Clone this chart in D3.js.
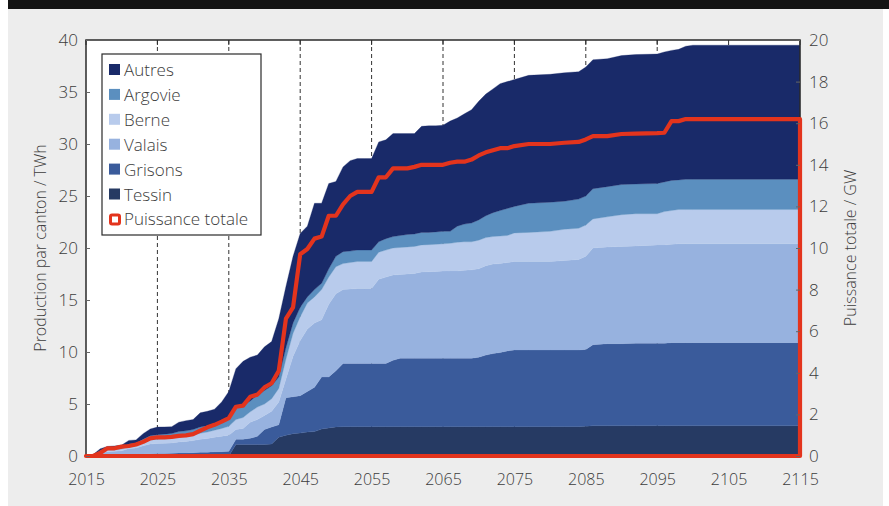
<!DOCTYPE html>
<html><head><meta charset="utf-8">
<script src="https://cdn.jsdelivr.net/npm/d3@7"></script>
<style>
body{margin:0;background:#fff}
svg{display:block}
text{font-family:"Open Sans","Noto Sans",sans-serif;font-weight:300;fill:#3c3c3c}
</style>
</head><body>
<svg id="c" width="889" height="506"></svg>
<script>
const years = [2015,2016,2017,2018,2019,2020,2021,2022,2023,2024,2025,2026,2027,2028,2029,2030,2031,2032,2033,2034,2035,2036,2037,2038,2039,2040,2041,2042,2043,2044,2045,2046,2047,2048,2049,2050,2051,2052,2053,2054,2055,2056,2057,2058,2059,2060,2061,2062,2063,2064,2065,2066,2067,2068,2069,2070,2071,2072,2073,2074,2075,2077,2080,2082,2084,2085,2086,2088,2090,2092,2095,2096,2097,2098,2099,2100,2115];

const tessin  = [0,0,0,0,0,0,0,0,0,0,0,0,0,0,0,0,0,0,0,0,0,1.1,1.1,1.1,1.1,1.1,1.15,1.8,2.0,2.15,2.2,2.3,2.35,2.6,2.7,2.8,2.82,2.82,2.82,2.82,2.82,2.82,2.82,2.82,2.82,2.82,2.82,2.82,2.82,2.82,2.82,2.82,2.82,2.82,2.82,2.82,2.82,2.82,2.82,2.82,2.82,2.82,2.82,2.82,2.82,2.85,2.9,2.9,2.9,2.9,2.9,2.9,2.9,2.9,2.9,2.9,2.9];
const grisons = [0,0.02,0.05,0.08,0.10,0.12,0.15,0.15,0.20,0.22,0.25,0.25,0.26,0.30,0.30,0.32,0.35,0.36,0.40,0.42,0.45,0.50,0.52,0.60,0.80,1.45,1.65,1.20,3.60,3.55,3.60,3.90,4.25,5.00,4.90,5.40,6.08,6.08,6.08,6.08,6.08,6.08,6.08,6.38,6.58,6.58,6.58,6.58,6.58,6.58,6.58,6.58,6.58,6.58,6.58,6.68,6.88,7.03,7.13,7.28,7.38,7.38,7.38,7.38,7.38,7.40,7.80,7.90,7.90,7.95,7.95,7.95,8.00,8.00,8.00,8.00,8.00];
const valais  = [0,0.03,0.25,0.34,0.35,0.38,0.57,0.63,0.78,0.93,0.95,0.97,1.00,1.05,1.10,1.16,1.25,1.32,1.40,1.48,1.55,0.95,1.03,1.55,1.60,1.35,1.50,2.20,1.80,3.90,5.30,6.00,6.20,5.50,7.00,7.40,7.10,7.15,7.20,7.20,7.20,8.10,8.30,8.20,8.05,8.10,8.15,8.30,8.32,8.35,8.38,8.40,8.40,8.45,8.50,8.50,8.60,8.60,8.55,8.50,8.50,8.50,8.50,8.60,8.70,8.95,9.30,9.30,9.35,9.35,9.45,9.45,9.45,9.50,9.50,9.50,9.50];
const berne   = [0,0.03,0.12,0.16,0.17,0.18,0.23,0.24,0.32,0.40,0.42,0.44,0.46,0.50,0.52,0.52,0.58,0.62,0.68,0.75,0.85,0.95,1.05,1.00,1.20,1.10,1.20,1.30,1.90,2.20,2.30,2.50,2.50,2.90,2.60,2.60,2.50,2.55,2.60,2.60,2.60,2.60,2.60,2.60,2.60,2.60,2.60,2.60,2.60,2.60,2.62,2.65,2.75,2.75,2.70,2.75,2.70,2.65,2.65,2.60,2.75,2.80,2.90,3.00,3.00,3.00,2.80,2.90,3.05,3.10,3.00,3.20,3.25,3.30,3.30,3.30,3.30];
const argovie = [0,0.02,0.10,0.14,0.16,0.17,0.20,0.20,0.32,0.40,0.43,0.44,0.44,0.50,0.50,0.55,0.60,0.62,0.67,0.70,0.70,1.15,1.15,1.05,1.15,1.30,1.25,1.10,1.10,1.00,0.90,0.60,0.70,0.60,0.80,1.00,1.15,1.10,1.10,1.10,1.10,1.00,1.10,1.10,1.15,1.20,1.20,1.20,1.18,1.20,1.20,1.15,1.55,1.70,1.80,1.95,2.10,2.30,2.45,2.60,2.55,2.80,2.80,2.70,2.80,2.80,2.90,2.90,2.90,2.85,2.90,2.85,2.90,2.85,2.90,2.90,2.90];
const autres  = [0,0.05,0.18,0.20,0.19,0.20,0.35,0.33,0.53,0.65,0.73,0.70,0.66,0.90,0.98,0.95,1.37,1.38,1.35,1.85,2.65,3.75,4.25,4.20,3.85,4.20,4.25,5.60,5.90,6.40,7.10,6.80,8.30,7.70,8.20,7.20,8.15,8.70,8.80,8.80,8.80,9.60,9.50,9.90,9.80,9.70,9.65,10.20,10.25,10.20,10.20,10.60,10.40,10.60,10.90,11.40,11.70,11.90,12.20,12.20,12.20,12.30,12.30,12.35,12.25,12.40,12.40,12.30,12.40,12.45,12.45,12.50,12.50,12.55,12.80,12.90,12.90];
const puissance = [0,0,0.15,0.37,0.37,0.45,0.48,0.55,0.68,0.85,0.90,0.90,0.92,0.97,0.99,1.05,1.22,1.38,1.50,1.65,1.82,2.37,2.42,2.85,2.95,3.30,3.50,4.10,6.60,7.15,9.70,9.95,10.45,10.55,11.55,11.55,12.10,12.50,12.70,12.70,12.70,13.40,13.40,13.83,13.83,13.83,13.90,14.00,14.00,14.00,14.00,14.10,14.15,14.15,14.25,14.45,14.60,14.70,14.80,14.80,14.90,15.00,15.00,15.06,15.10,15.22,15.38,15.38,15.48,15.50,15.52,15.54,16.10,16.10,16.20,16.20,16.20];

const seriesNames = ["Tessin","Grisons","Valais","Berne","Argovie","Autres"];
const seriesValues = [tessin, grisons, valais, berne, argovie, autres];
const legendLabels = ["Autres","Argovie","Berne","Valais","Grisons","Tessin","Puissance totale"];
const xTickValues = [2015,2025,2035,2045,2055,2065,2075,2085,2095,2105,2115];
const gridYears = [2025,2035,2045,2055,2065,2075,2085,2095];
const yLeftTicks = [0,5,10,15,20,25,30,35,40];
const yRightTicks = [0,2,4,6,8,10,12,14,16,18,20];
const yLeftTitle = "Production par canton / TWh";
const yRightTitle = "Puissance totale / GW";

const colors = {Tessin:"#263a63", Grisons:"#3a5b9b", Valais:"#97b2df", Berne:"#b8cbec", Argovie:"#5b8fbf", Autres:"#192a69"};
const red = "#e3341d";

const svg = d3.select("#c");
const L = 86, R = 800, T = 40, B = 456;

// background
svg.append("rect").attr("x",0).attr("y",0).attr("width",889).attr("height",506).attr("fill","#fff");
svg.append("rect").attr("x",8).attr("y",9).attr("width",875).attr("height",497).attr("fill","#ededed");
svg.append("rect").attr("x",8).attr("y",0).attr("width",881).attr("height",9).attr("fill","#141414");

const x = d3.scaleLinear().domain([2015,2115]).range([L,R]);
const yL = d3.scaleLinear().domain([0,40]).range([B,T]);
const yR = d3.scaleLinear().domain([0,20]).range([B,T]);

svg.append("rect").attr("x",L).attr("y",T).attr("width",R-L).attr("height",B-T).attr("fill","#fff");

// dashed grid
svg.append("g").selectAll("line").data(gridYears).join("line")
  .attr("x1",d=>x(d)).attr("x2",d=>x(d)).attr("y1",T).attr("y2",B)
  .attr("stroke","#333").attr("stroke-width",1).attr("stroke-dasharray","4,3");

// stacked data
const table = years.map((yr,i)=>{
  const o = {year:yr};
  seriesNames.forEach((n,k)=>o[n]=seriesValues[k][i]);
  return o;
});
const stack = d3.stack().keys(seriesNames)(table);
const area = d3.area().x(d=>x(d.data.year)).y0(d=>yL(d[0])).y1(d=>yL(d[1]));
svg.append("g").selectAll("path").data(stack).join("path")
  .attr("d",area).attr("fill",d=>colors[d.key]).attr("stroke",d=>colors[d.key]).attr("stroke-width",0.3);

// frame
svg.append("rect").attr("x",L).attr("y",T).attr("width",R-L).attr("height",B-T)
  .attr("fill","none").attr("stroke","#2a2a2a").attr("stroke-width",1.5);

// top ticks
svg.append("g").selectAll("line").data(xTickValues).join("line")
  .attr("x1",d=>x(d)).attr("x2",d=>x(d)).attr("y1",T).attr("y2",T+5)
  .attr("stroke","#2a2a2a").attr("stroke-width",1);

// power outline (area from 0)
const pData = years.map((yr,i)=>({year:yr,v:puissance[i]}));
const pArea = d3.area().x(d=>x(d.year)).y0(yR(0)).y1(d=>yR(d.v));
svg.append("path").datum(pData).attr("d",pArea)
  .attr("fill","none").attr("stroke",red).attr("stroke-width",4.2).attr("stroke-linejoin","round");

// axes
const gl = svg.append("g").attr("transform",`translate(${L},0)`)
  .call(d3.axisLeft(yL).tickValues(yLeftTicks).tickSize(-4).tickPadding(8).tickFormat(d3.format("d")));
gl.select(".domain").remove();
gl.selectAll(".tick line").attr("stroke","#666");
gl.selectAll("text").style("font-size","17px").attr("fill","#3c3c3c");

const gr = svg.append("g").attr("transform",`translate(${R},0)`)
  .call(d3.axisRight(yR).tickValues(yRightTicks).tickSize(-4).tickPadding(9).tickFormat(d3.format("d")));
gr.select(".domain").remove();
gr.selectAll(".tick line").attr("stroke","#666");
gr.selectAll("text").style("font-size","17px").attr("fill","#3c3c3c");

const gb = svg.append("g").attr("transform",`translate(0,${B})`)
  .call(d3.axisBottom(x).tickValues(xTickValues).tickSize(0).tickPadding(18).tickFormat(d3.format("d")));
gb.select(".domain").remove();
gb.selectAll("text").style("font-size","16px").attr("fill","#3c3c3c");

// axis titles
svg.append("text").attr("transform",`translate(46,${(T+B)/2}) rotate(-90)`)
  .attr("text-anchor","middle").style("font-size","16px").text(yLeftTitle);
svg.append("text").attr("transform",`translate(856,${(T+B)/2}) rotate(-90)`)
  .attr("text-anchor","middle").style("font-size","16px").text(yRightTitle);

// legend
const lg = svg.append("g");
lg.append("rect").attr("x",102).attr("y",54).attr("width",159).attr("height",181)
  .attr("fill","#fff").attr("stroke","#2a2a2a").attr("stroke-width",1.2);
legendLabels.forEach((lab,i)=>{
  const cy = 70 + i*24.9;
  if (lab === "Puissance totale") {
    lg.append("rect").attr("x",110.5).attr("y",cy-4.5).attr("width",9).attr("height",9)
      .attr("fill","#fff").attr("stroke",red).attr("stroke-width",3).attr("rx",1.5);
  } else {
    lg.append("rect").attr("x",109).attr("y",cy-6).attr("width",11).attr("height",11).attr("fill",colors[lab]);
  }
  lg.append("text").attr("x",124).attr("y",cy+6).style("font-size","17px").text(lab);
});
</script>
</body></html>
